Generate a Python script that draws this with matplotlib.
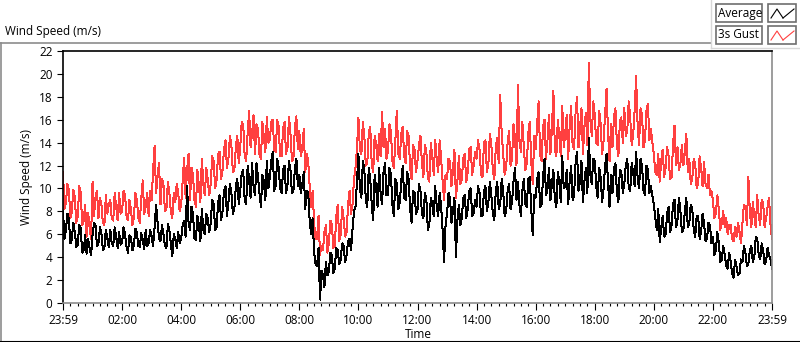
import numpy as np
import matplotlib
matplotlib.use("Agg")
import matplotlib.pyplot as plt
from matplotlib.ticker import MultipleLocator
from matplotlib.lines import Line2D
from matplotlib.patches import Rectangle

plt.rcParams['font.family'] = ['Open Sans', 'DejaVu Sans']

# 6-minute samples (on the tenth of an hour), one row per hour
avg_speed = [
    8.0, 6.4, 7.3, 5.6, 6.2, 5.1, 6.5, 4.6, 4.3, 4.8,
    5.9, 6.8, 5.2, 6.1, 4.8, 5.6, 6.4, 5.0, 5.8, 6.2,
    5.3, 6.0, 4.4, 5.7, 5.1, 6.2, 4.9, 5.5, 6.4, 5.2,
    5.8, 6.6, 7.1, 5.4, 6.0, 4.8, 6.4, 4.1, 5.6, 6.2,
    5.6, 7.2, 10.2, 6.4, 7.8, 5.5, 6.8, 8.2, 6.0, 7.4,
    7.0, 8.6, 6.6, 9.4, 8.0, 10.2, 8.8, 9.6, 8.2, 10.8,
    9.8, 11.6, 8.6, 10.8, 12.2, 9.4, 11.0, 8.4, 10.6, 12.4,
    11.0, 13.2, 10.2, 11.8, 9.6, 12.0, 10.4, 11.6, 9.8, 12.6,
    11.2, 10.4, 8.2, 9.6, 6.0, 4.4, 3.2, 0.3, 2.4, 3.6,
    2.8, 4.2, 3.0, 4.6, 3.8, 5.0, 4.2, 5.6, 6.4, 8.4,
    13.0, 9.2, 11.6, 8.4, 10.8, 7.2, 10.0, 11.8, 8.6, 12.2,
    9.4, 11.2, 7.6, 10.4, 8.8, 12.0, 9.0, 10.8, 7.0, 9.6,
    8.2, 9.8, 7.4, 9.0, 6.8, 8.6, 10.2, 7.6, 8.4, 3.6,
    7.8, 9.2, 8.0, 4.0, 8.6, 7.4, 9.4, 8.2, 10.0, 7.8,
    8.4, 9.6, 7.6, 10.2, 8.8, 9.4, 7.2, 10.6, 8.6, 9.8,
    8.0, 10.4, 8.8, 11.8, 10.6, 7.6, 10.8, 8.4, 11.0, 5.9,
    9.2, 11.4, 8.6, 12.6, 10.0, 9.0, 11.6, 8.4, 10.6, 12.8,
    10.2, 8.6, 12.0, 9.4, 13.2, 10.6, 8.8, 11.8, 14.4, 10.4,
    12.4, 9.2, 11.0, 10.0, 13.0, 8.4, 9.6, 12.2, 8.8, 11.4,
    10.4, 12.6, 9.8, 11.4, 13.2, 10.0, 12.0, 9.4, 11.6, 10.2,
    8.6, 6.4, 5.3, 7.6, 6.0, 8.4, 6.8, 9.0, 7.2, 8.0,
    6.4, 9.2, 7.0, 8.2, 5.8, 7.6, 6.2, 7.0, 5.6, 6.8,
    5.8, 4.6, 5.2, 3.8, 4.2, 3.0, 3.6, 2.2, 3.2, 2.6,
    3.6, 4.4, 3.4, 5.0, 4.0, 5.6, 3.8, 4.6, 3.6, 4.2,
    3.0,
]

# readings taken 3 minutes after each of the above
avg_speed_mid = [
    5.6, 7.8, 5.2, 7.0, 4.9, 6.8, 4.4, 5.9, 5.6, 4.2,
    7.0, 5.0, 6.6, 4.6, 6.4, 4.9, 5.2, 6.6, 4.8, 5.1,
    6.6, 4.9, 5.9, 4.6, 6.5, 5.0, 6.1, 4.7, 5.0, 6.4,
    5.0, 8.6, 5.6, 6.8, 5.0, 6.9, 5.2, 6.0, 4.8, 5.2,
    6.8, 5.8, 7.0, 8.4, 5.6, 7.6, 5.4, 6.4, 7.8, 6.2,
    9.0, 6.4, 8.8, 7.2, 9.8, 7.6, 10.4, 7.8, 10.2, 8.6,
    11.4, 9.0, 12.0, 9.2, 10.2, 12.2, 9.6, 11.2, 9.0, 10.0,
    12.4, 9.8, 12.6, 10.0, 11.6, 9.6, 12.4, 9.6, 11.8, 10.2,
    9.6, 11.4, 9.8, 7.2, 7.4, 3.4, 4.8, 2.8, 1.4, 2.4,
    4.4, 2.6, 4.8, 3.4, 5.2, 3.6, 5.4, 4.6, 8.0, 10.6,
    10.0, 12.4, 9.0, 11.8, 8.6, 11.2, 8.4, 9.6, 11.4, 9.4,
    11.8, 8.6, 10.8, 8.2, 10.6, 9.2, 11.4, 8.2, 9.8, 7.8,
    10.4, 7.8, 9.6, 6.4, 9.2, 7.6, 8.4, 9.6, 6.4, 6.8,
    9.6, 7.0, 9.2, 7.2, 6.8, 9.2, 7.4, 9.8, 7.6, 9.0,
    10.2, 7.6, 9.8, 8.0, 10.6, 7.8, 9.8, 8.2, 10.8, 7.6,
    9.8, 8.2, 10.6, 9.0, 8.6, 9.8, 8.6, 10.8, 8.2, 9.4,
    10.8, 8.4, 11.0, 9.4, 11.8, 10.4, 9.0, 11.4, 8.8, 10.0,
    11.6, 10.6, 9.0, 12.2, 9.8, 12.4, 10.6, 9.6, 11.2, 12.6,
    10.2, 11.8, 8.8, 12.0, 10.4, 11.2, 11.8, 9.6, 11.6, 9.6,
    12.0, 10.0, 12.2, 10.2, 11.0, 12.6, 9.8, 12.0, 9.6, 9.4,
    7.4, 8.2, 6.6, 5.8, 7.8, 6.2, 8.6, 6.6, 9.2, 6.2,
    8.0, 6.6, 8.6, 6.4, 7.6, 5.6, 7.8, 5.4, 7.0, 5.2,
    4.2, 6.2, 3.6, 5.0, 3.2, 4.4, 2.6, 3.8, 2.4, 3.8,
    5.0, 3.2, 4.6, 3.6, 5.8, 4.2, 5.2, 3.4, 4.8, 3.8,
]

gust_speed = [
    11.4, 8.8, 9.8, 8.0, 9.2, 7.6, 9.6, 7.2, 5.8, 6.6,
    10.6, 9.2, 7.4, 8.6, 6.8, 7.8, 9.0, 7.2, 8.4, 9.6,
    8.0, 9.4, 7.2, 8.2, 7.5, 9.0, 7.0, 10.7, 8.4, 7.6,
    9.0, 13.7, 11.0, 8.6, 10.4, 8.2, 9.6, 7.4, 8.8, 9.6,
    8.6, 12.7, 11.6, 9.0, 11.2, 8.4, 10.2, 12.6, 9.4, 10.8,
    10.4, 12.4, 10.8, 13.2, 11.6, 14.2, 12.6, 13.8, 11.6, 14.6,
    13.6, 15.6, 12.4, 16.8, 14.8, 13.0, 15.2, 12.6, 14.4, 16.2,
    14.2, 16.0, 13.2, 15.4, 12.8, 15.8, 13.6, 14.8, 12.6, 16.3,
    15.0, 13.6, 11.4, 12.4, 8.4, 7.0, 5.6, 4.2, 4.6, 6.8,
    5.2, 6.9, 5.0, 8.6, 6.0, 7.4, 6.2, 9.8, 8.6, 11.8,
    16.2, 13.0, 14.6, 12.2, 15.4, 11.4, 13.8, 14.8, 16.7, 15.2,
    13.2, 15.0, 11.8, 16.8, 12.6, 15.4, 12.2, 14.6, 10.8, 13.4,
    12.4, 14.6, 11.0, 13.2, 10.6, 12.8, 14.2, 11.4, 12.6, 9.0,
    10.8, 12.4, 11.6, 9.2, 12.8, 10.8, 13.0, 11.4, 13.6, 12.0,
    12.6, 13.4, 11.0, 14.2, 12.2, 13.8, 10.8, 14.4, 18.2, 13.0,
    11.8, 15.0, 12.6, 14.4, 19.0, 13.2, 13.6, 12.2, 15.8, 10.4,
    13.4, 17.6, 12.4, 16.0, 14.2, 13.0, 18.5, 12.8, 14.6, 17.2,
    14.8, 12.6, 17.2, 13.4, 18.0, 15.2, 13.0, 16.6, 21.0, 14.6,
    16.4, 13.8, 15.6, 14.2, 18.7, 12.4, 13.6, 17.0, 12.8, 16.2,
    17.0, 15.0, 16.2, 14.6, 19.8, 13.8, 16.4, 14.2, 17.4, 15.2,
    13.0, 11.2, 10.6, 13.4, 11.8, 12.8, 11.0, 15.5, 13.6, 12.2,
    12.0, 14.8, 12.6, 10.8, 12.2, 10.4, 11.8, 12.3, 10.0, 9.4,
    9.0, 7.8, 8.2, 7.0, 6.6, 6.0, 6.8, 5.4, 5.8, 6.2,
    7.0, 8.4, 11.0, 6.6, 7.6, 9.4, 6.8, 8.8, 7.4, 9.2,
    5.6,
]

gust_speed_mid = [
    8.2, 10.4, 7.4, 9.9, 7.0, 10.2, 6.8, 8.6, 7.9, 5.6,
    7.6, 9.8, 9.2, 7.0, 9.4, 8.6, 7.4, 9.6, 7.2, 7.8,
    9.8, 7.6, 9.0, 6.8, 9.6, 7.4, 9.2, 7.8, 9.6, 9.8,
    11.6, 9.6, 12.2, 10.8, 8.0, 10.6, 8.0, 9.6, 10.4, 8.0,
    10.6, 9.2, 13.0, 11.8, 9.0, 11.6, 8.8, 10.4, 11.8, 9.4,
    12.8, 10.0, 13.0, 10.8, 13.4, 11.8, 14.6, 11.4, 13.6, 12.2,
    15.8, 12.8, 14.8, 13.6, 16.4, 15.6, 13.0, 15.8, 13.2, 14.0,
    15.8, 13.4, 16.0, 12.8, 15.2, 13.0, 16.2, 12.4, 15.4, 13.4,
    12.8, 15.2, 13.0, 10.2, 9.8, 5.6, 7.6, 5.0, 6.2, 4.4,
    7.2, 4.8, 7.6, 5.4, 8.4, 5.8, 8.6, 7.8, 10.8, 13.4,
    13.4, 15.8, 12.0, 14.8, 12.2, 14.6, 12.4, 12.8, 13.6, 12.6,
    15.6, 12.4, 14.2, 13.0, 14.8, 12.8, 15.0, 11.8, 13.8, 11.4,
    13.8, 12.2, 13.8, 11.0, 14.0, 11.2, 12.6, 14.2, 10.6, 11.2,
    12.6, 10.2, 13.4, 10.6, 10.4, 12.6, 10.6, 13.4, 11.2, 13.2,
    14.2, 11.2, 14.0, 11.4, 14.8, 11.6, 13.6, 12.2, 14.8, 11.2,
    14.0, 12.0, 15.6, 12.0, 14.2, 15.8, 11.6, 14.8, 12.4, 14.6,
    15.6, 13.0, 15.4, 12.6, 16.4, 15.2, 13.4, 16.0, 12.8, 13.6,
    16.4, 15.4, 13.8, 16.6, 13.6, 17.0, 15.4, 13.8, 16.0, 17.6,
    14.0, 16.8, 13.0, 16.4, 14.8, 15.6, 16.2, 13.8, 15.8, 14.0,
    14.6, 17.6, 13.8, 16.8, 15.6, 17.0, 13.6, 16.8, 14.2, 14.0,
    11.4, 13.0, 12.4, 11.0, 13.6, 10.8, 13.8, 12.0, 11.6, 13.8,
    13.2, 11.4, 10.4, 12.6, 10.0, 12.8, 10.2, 10.4, 11.2, 9.8,
    7.4, 9.4, 6.4, 8.0, 7.4, 6.8, 5.6, 6.6, 7.0, 5.2,
    8.6, 6.8, 8.0, 8.8, 6.6, 7.6, 9.0, 6.6, 8.4, 6.8,
]

tick_labels = ["23:59", "02:00", "04:00", "06:00", "08:00", "10:00", "12:00",
               "14:00", "16:00", "18:00", "20:00", "22:00", "23:59"]


def merge(samples, mids):
    out = np.empty(len(samples) + len(mids))
    out[0::2] = samples
    out[1::2] = mids
    return out


avg_all = merge(avg_speed, avg_speed_mid)
gust_all = merge(gust_speed, gust_speed_mid)
hours = np.arange(len(avg_all)) * 0.05

fig = plt.figure(figsize=(8, 3.42), dpi=100)
ax = fig.add_axes([63 / 800, 1 - 303 / 342, 709 / 800, 252 / 342])

ax.plot(hours, gust_all, color="#ff4040", lw=0.72, antialiased=False)
ax.plot(hours, avg_all, color="black", lw=0.72, antialiased=False)

ax.set_xlim(0, 24)
ax.set_ylim(0, 22)
ax.yaxis.set_major_locator(MultipleLocator(2))
ax.xaxis.set_minor_locator(MultipleLocator(0.25))
ax.set_xticks(np.arange(0, 25, 2))
ax.set_xticklabels(tick_labels)
ax.tick_params(axis="both", which="major", labelsize=8.5, length=4, width=0.8)
ax.tick_params(axis="x", which="minor", length=2.5, width=0.8)
ax.tick_params(axis="x", which="major", length=5, pad=3)

for side in ("left", "top"):
    ax.spines[side].set_color("black")
    ax.spines[side].set_linewidth(1.2)
for side in ("right", "bottom"):
    ax.spines[side].set_color("#8c8c8c")
    ax.spines[side].set_linewidth(1.2)

ax.set_ylabel("Wind Speed (m/s)", fontsize=8.5, labelpad=4)
fig.text(418 / 800, 1 - 334 / 342, "Time", fontsize=8.5, va="center", ha="center")

# title and panel frame
fig.text(5 / 800, 1 - 32 / 342, "Wind Speed (m/s)", fontsize=8.5, va="center", ha="left")
fig.add_artist(Line2D([0, 711 / 800], [1 - 43 / 342] * 2, color="#8c8c8c", lw=1.2))
fig.add_artist(Line2D([0.5 / 800] * 2, [0, 1 - 43 / 342], color="#8c8c8c", lw=1.2))
fig.add_artist(Line2D([0, 1], [0.5 / 342] * 2, color="black", lw=1.5))
fig.add_artist(Line2D([711 / 800] * 2, [1 - 48 / 342, 1], color="#d8d8d8", lw=1))
fig.add_artist(Line2D([711 / 800, 1], [1 - 48 / 342] * 2, color="#d8d8d8", lw=1))

# legend boxes
for i, (name, col) in enumerate([("Average", "black"), ("3s Gust", "#ff4040")]):
    y0 = 4 + i * 22
    fig.add_artist(Rectangle((716 / 800, 1 - (y0 + 18) / 342), 46 / 800, 18 / 342,
                             transform=fig.transFigure, fill=False, ec="#6e6e6e", lw=1.2))
    fig.text(718 / 800, 1 - (y0 + 9) / 342, name, fontsize=8.5, va="center", ha="left")
    fig.add_artist(Rectangle((768 / 800, 1 - (y0 + 18) / 342), 28 / 800, 18 / 342,
                             transform=fig.transFigure, fill=False, ec="#6e6e6e", lw=1.2))
    xs = np.array([771, 777, 783, 789, 794]) / 800
    ys = 1 - (y0 + np.array([14, 5, 14, 14, 5])) / 342
    fig.add_artist(Line2D(xs[[0, 1, 2]], ys[[0, 1, 2]], color=col, lw=0.8))
    fig.add_artist(Line2D([xs[2], xs[4]], [ys[2], ys[4]], color=col, lw=0.8))

fig.savefig("out.png", dpi=100)
